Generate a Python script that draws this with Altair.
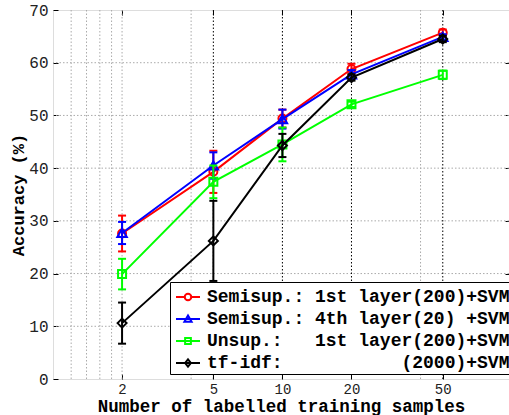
import altair as alt
import pandas as pd

# ---------------- data ----------------
x_samples = [2, 5, 10, 20, 50]

series_labels = [
    "Semisup.:\u00a01st\u00a0layer(200)+SVM",
    "Semisup.:\u00a04th\u00a0layer(20)\u00a0+SVM",
    "Unsup.:\u00a0\u00a0\u00a01st\u00a0layer(200)+SVM",
    "tf-idf:" + "\u00a0" * 11 + "(2000)+SVM",
]

semisup_1st_mean = [27.6, 39.3, 49.4, 58.8, 65.7]
semisup_1st_err = [3.4, 4.0, 1.7, 1.0, 0.6]

semisup_4th_mean = [27.7, 40.5, 49.3, 57.8, 64.9]
semisup_4th_err = [2.1, 2.5, 1.8, 0.8, 0.5]

unsup_1st_mean = [19.9, 37.4, 44.5, 52.1, 57.7]
unsup_1st_err = [2.9, 3.1, 3.2, 0.5, 0.8]

tfidf_mean = [10.6, 26.2, 44.3, 57.2, 64.5]
tfidf_err = [3.9, 7.6, 2.2, 0.6, 0.6]

y_ticks = [0, 10, 20, 30, 40, 50, 60, 70]
y_grid = [10, 20, 30, 40, 50, 60]
x_grid_major = [5, 10, 20, 50]
x_grid_minor = [1.2, 1.4, 1.6, 1.8, 2, 4, 40]

# ---------------- styles ----------------
series_means = [semisup_1st_mean, semisup_4th_mean, unsup_1st_mean, tfidf_mean]
series_errs = [semisup_1st_err, semisup_4th_err, unsup_1st_err, tfidf_err]
series_colors = ["#ff0000", "#0000ff", "#00ff00", "#000000"]
series_markers = ["circle", "triangle-up", "square", "diamond"]
marker_sizes = [64, 90, 64, 81]
legend_paths = [
    "M-1,0L-0.27,0M0.27,0L1,0M-0.27,0A0.27,0.27,0,1,1,0.27,0A0.27,0.27,0,1,1,-0.27,0",
    "M-1,0L1,0M0,-0.3L0.3,0.22L-0.3,0.22Z",
    "M-1,0L1,0M-0.24,-0.24L0.24,-0.24L0.24,0.24L-0.24,0.24Z",
    "M-1,0L1,0M0,-0.3L0.24,0L0,0.3L-0.24,0Z",
]

MONO = "Liberation Mono"

xscale = alt.Scale(type="log", domain=[1, 97.2], nice=False)
yscale = alt.Scale(domain=[0, 70], nice=False, zero=False)

bottom_axis = alt.Axis(
    orient="bottom", values=x_samples, format="d", domain=False, grid=False,
    ticks=True, tickSize=5, offset=-5, tickColor="black", tickWidth=1,
    labelFont=MONO, labelFontSize=14, labelColor="#222", labelPadding=3,
    labelFlush=False, labelOverlap=False,
    title="Number of labelled training samples", titleFont=MONO,
    titleFontSize=17.5, titleFontWeight="bold", titleColor="black",
    titleBaseline="alphabetic", titleY=37,
)
left_axis = alt.Axis(
    orient="left", values=y_ticks, format="d", domain=False, grid=False,
    ticks=True, tickSize=5, offset=-5, tickColor="black", tickWidth=1,
    labelFont=MONO, labelFontSize=16, labelColor="#222", labelPadding=5,
    labelFlush=False, labelOverlap=False,
    title="Accuracy (%)", titleFont=MONO, titleFontSize=17,
    titleFontWeight="bold", titleColor="black", titleX=-40,
    titleBaseline="middle",
)
top_axis = alt.Axis(
    orient="top", values=x_samples, domain=False, grid=False, labels=False,
    ticks=True, tickSize=5, offset=-5, tickColor="black", title=None,
)
right_axis = alt.Axis(
    orient="right", values=y_grid, domain=False, grid=False, labels=False,
    ticks=True, tickSize=4, offset=-4, tickColor="black", title=None,
)

layers = []

# grid lines
layers.append(
    alt.Chart(pd.DataFrame({"v": y_grid}))
    .mark_rule(color="#aaaaaa", strokeWidth=1, strokeDash=[1.5, 2])
    .encode(y=alt.Y("v:Q", scale=yscale, axis=None))
)
layers.append(
    alt.Chart(pd.DataFrame({"v": x_grid_minor}))
    .mark_rule(color="#aaaaaa", strokeWidth=1, strokeDash=[1.5, 2])
    .encode(x=alt.X("v:Q", scale=xscale, axis=None))
)
layers.append(
    alt.Chart(pd.DataFrame({"v": x_grid_major}))
    .mark_rule(color="#000000", strokeWidth=1, strokeDash=[1.5, 2])
    .encode(x=alt.X("v:Q", scale=xscale, axis=None))
)

for i, label in enumerate(series_labels):
    m = series_means[i]
    e = series_errs[i]
    df = pd.DataFrame({
        "x": x_samples,
        "mean": m,
        "lo": [a - b for a, b in zip(m, e)],
        "hi": [a + b for a, b in zip(m, e)],
        "series": label,
    })
    c = series_colors[i]
    first = i == 0
    base = alt.Chart(df)
    line = base.mark_line(strokeWidth=2, color=c).encode(
        x=alt.X("x:Q", scale=xscale, axis=bottom_axis if first else None),
        y=alt.Y("mean:Q", scale=yscale, axis=left_axis if first else None),
    )
    rule = base.mark_rule(strokeWidth=2, color=c).encode(
        x=alt.X("x:Q", scale=xscale, axis=None),
        y=alt.Y("lo:Q", scale=yscale, axis=None),
        y2="hi:Q",
    )
    caps = base.transform_fold(["lo", "hi"], as_=["k", "v"]).mark_tick(
        orient="horizontal", size=8, thickness=2, color=c, opacity=1
    ).encode(
        x=alt.X("x:Q", scale=xscale, axis=None),
        y=alt.Y("v:Q", scale=yscale, axis=None),
    )
    pts = base.mark_point(
        shape=series_markers[i], size=marker_sizes[i], filled=False,
        strokeWidth=2, color=c, opacity=1,
    ).encode(
        x=alt.X("x:Q", scale=xscale, axis=top_axis if first else None),
        y=alt.Y("mean:Q", scale=yscale, axis=right_axis if first else None),
    )
    layers += [line, rule, caps, pts]

# legend carrier (no marks drawn, legend built from explicit domain)
legend_def = alt.Legend(
    title=None, orient="none", legendX=117, legendY=272,
    fillColor="white", strokeColor="black", padding=2, cornerRadius=0,
    labelFont=MONO, labelFontWeight="bold", labelFontSize=18,
    labelColor="black", labelLimit=600, labelOffset=6, rowPadding=0,
    symbolSize=576, symbolStrokeWidth=2, symbolOffset=3,
)
legend_df = pd.DataFrame({"x": x_samples[:4], "mean": [0, 0, 0, 0], "series": series_labels})
layers.append(
    alt.Chart(legend_df)
    .transform_filter("false")
    .mark_point(filled=False, strokeWidth=2, opacity=1)
    .encode(
        x=alt.X("x:Q", scale=xscale, axis=None),
        y=alt.Y("mean:Q", scale=yscale, axis=None),
        color=alt.Color("series:N", scale=alt.Scale(domain=series_labels, range=series_colors), legend=legend_def),
        shape=alt.Shape("series:N", scale=alt.Scale(domain=series_labels, range=legend_paths), legend=legend_def),
    )
)

chart = (
    alt.layer(*layers)
    .resolve_axis(x="independent", y="independent")
    .properties(
        width=456, height=369,
        autosize=alt.AutoSizeParams(type="none"),
        padding={"left": 53, "top": 10, "right": 0, "bottom": 36},
    )
    .configure_view(stroke="black", strokeWidth=1)
    .configure(background="white")
)

chart.save("out.html", embed_options={"renderer": "svg", "actions": False})
